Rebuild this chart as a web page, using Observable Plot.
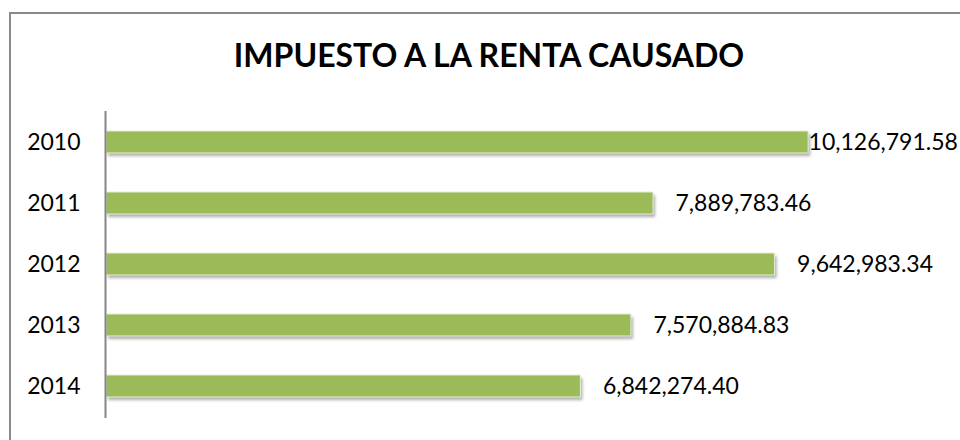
<!DOCTYPE html>
<html>
<head>
<meta charset="utf-8">
<script src="https://cdn.jsdelivr.net/npm/d3@7"></script>
<script src="https://cdn.jsdelivr.net/npm/@observablehq/plot@0.6"></script>
<style>
  html, body { margin: 0; padding: 0; background: #fff; width: 960px; height: 440px; overflow: hidden; }
  #frame { position: absolute; left: 9px; top: 12px; width: 1100px; height: 600px;
           border-left: 2px solid #8a8a8a; border-top: 2px solid #8a8a8a; box-sizing: border-box; }
  #title { position: absolute; left: 0; top: 37px; width: 978px; text-align: center;
           font-family: Lato, "Open Sans", sans-serif; font-weight: bold; font-size: 32px; color: #000; line-height: 36px; }
  #chart { position: absolute; left: 0; top: 100px; }
</style>
</head>
<body>
<div id="frame"></div>
<div id="title">IMPUESTO A LA RENTA CAUSADO</div>
<div id="chart"></div>
<script>
const years = ["2010", "2011", "2012", "2013", "2014"];
const values = [10126791.58, 7889783.46, 9642983.34, 7570884.83, 6842274.40];
const labels = ["10,126,791.58", "7,889,783.46", "9,642,983.34", "7,570,884.83", "6,842,274.40"];
const xMax = 12000000;

const data = years.map((y, i) => ({year: y, value: values[i], label: labels[i]}));
const font = "Lato, 'Open Sans', sans-serif";

const chart = Plot.plot({
  width: 960,
  height: 340,
  marginLeft: 106,
  marginRight: 22,
  marginTop: 11,
  marginBottom: 22,
  style: {fontFamily: font, fontSize: "23px", color: "#000", background: "transparent"},
  x: {domain: [0, xMax], axis: null},
  y: {domain: years, paddingInner: 0.635, paddingOuter: 0.31, label: null, tickSize: 0, tickPadding: 26},
  marks: [
    Plot.barX(data, {y: "year", x: "value", fill: "#6b6b6b", fillOpacity: 0.55, dx: 2, dy: 3, className: "shadow"}),
    Plot.barX(data, {y: "year", x: "value", fill: "#9BBB59", stroke: "#e6eed6", strokeWidth: 1}),
    Plot.ruleX([0], {stroke: "#868686", strokeWidth: 2, dx: -1}),
    Plot.text(data.filter(d => d.year !== "2010"), {y: "year", x: "value", text: "label", textAnchor: "start", dx: 22, fill: "#000"}),
    Plot.text(data.filter(d => d.year === "2010"), {y: "year", x: "value", text: "label", textAnchor: "start", dx: 0, fill: "#000"})
  ]
});
// soft shadow
const ns = "http://www.w3.org/2000/svg";
const defs = document.createElementNS(ns, "defs");
defs.innerHTML = '<filter id="blur" x="-5%" y="-50%" width="110%" height="200%"><feGaussianBlur stdDeviation="1.5"/></filter>';
chart.insertBefore(defs, chart.firstChild);
const sh = chart.querySelector(".shadow");
if (sh) sh.setAttribute("filter", "url(#blur)");
document.getElementById("chart").appendChild(chart);
</script>
</body>
</html>
